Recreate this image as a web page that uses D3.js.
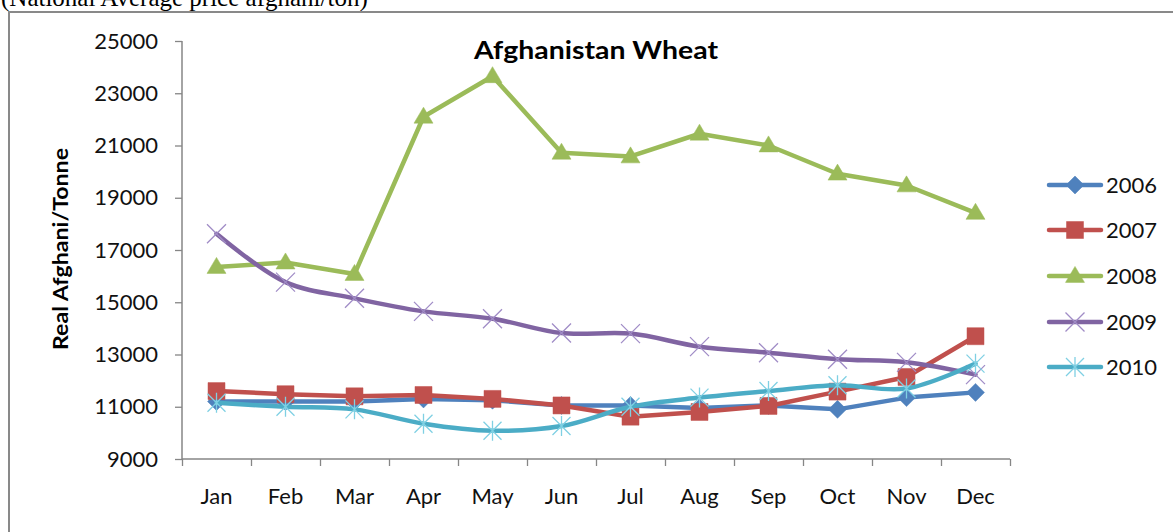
<!DOCTYPE html>
<html><head><meta charset="utf-8">
<script src="https://cdn.jsdelivr.net/npm/d3@7"></script>
<style>
html,body{margin:0;padding:0;background:#fff;}
svg{display:block;}
</style></head>
<body>
<svg id="chart" width="1173" height="532"></svg>
<script>
const months = ["Jan","Feb","Mar","Apr","May","Jun","Jul","Aug","Sep","Oct","Nov","Dec"];
const yTicks = [9000,11000,13000,15000,17000,19000,21000,23000,25000];
const seriesNames = ["2006","2007","2008","2009","2010"];
const v2006 = [11200,11200,11200,11300,11250,11050,11050,10950,11050,10900,11350,11550];
const v2007 = [11600,11480,11400,11450,11300,11050,10620,10800,11030,11580,12140,13700];
const v2008 = [16350,16520,16080,22100,23650,20720,20580,21450,21000,19920,19470,18420];
const v2009 = [17620,15770,15150,14650,14370,13820,13800,13300,13070,12820,12700,12230];
const v2010 = [11150,11000,10900,10350,10080,10260,11000,11350,11600,11820,11700,12650];
const title = "Afghanistan Wheat";
const yLabel = "Real Afghani/Tonne";
const caption = "(National Average price afghani/ton)";

const colors = ["#4F81BD","#C0504D","#9BBB59","#8064A2","#4BACC6"];
const markerColors = ["#4F81BD","#C0504D","#9BBB59","#A08CC6","#7FD0E3"];
const markerTypes = ["diamond","square","triangle","x","star"];
const allValues = [v2006,v2007,v2008,v2009,v2010];
const smooth = [false,false,false,true,true];

const svg = d3.select("#chart");
const font = "Lato, 'Open Sans', sans-serif";
const axisColor = "#868686";

// outer border and caption
svg.append("text").attr("x",1).attr("y",6)
  .attr("font-family","'Liberation Serif','Times New Roman',serif")
  .attr("font-size",25).attr("fill","#000").text(caption);
svg.append("path").attr("d","M9,532 V12 H1173").attr("fill","none")
  .attr("stroke","#898989").attr("stroke-width",2);

const x = d3.scaleBand().domain(months).range([182,1010]).padding(0);
const xEdge = d3.scaleLinear().domain([0,12]).range([182,1010]);
const y = d3.scaleLinear().domain([9000,25000]).range([459,41]);
const cx = m => x(m) + x.bandwidth()/2;

// y axis
const yAxis = svg.append("g").attr("transform","translate(182,0)")
  .call(d3.axisLeft(y).tickValues(yTicks).tickSize(7).tickPadding(17).tickFormat(d3.format("d")));
yAxis.select(".domain").attr("stroke",axisColor).attr("stroke-width",1.5).attr("d","M0,41V459");
yAxis.selectAll(".tick line").attr("stroke",axisColor).attr("stroke-width",1.3);
yAxis.selectAll("text").attr("font-family",font).attr("font-size",22).attr("fill","#111");

// x axis ticks at category boundaries
const xTicks = svg.append("g").attr("transform","translate(0,459)")
  .call(d3.axisBottom(xEdge).tickValues(d3.range(0,13)).tickSize(7).tickFormat(""));
xTicks.select(".domain").attr("stroke",axisColor).attr("stroke-width",1.5).attr("d","M182,0H1010");
xTicks.selectAll(".tick line").attr("stroke",axisColor).attr("stroke-width",1.3);
// x labels
const xLab = svg.append("g").attr("transform","translate(0,459)")
  .call(d3.axisBottom(x).tickSize(0).tickPadding(29));
xLab.select(".domain").remove();
xLab.selectAll("text").attr("font-family",font).attr("font-size",22).attr("fill","#111");

// titles
svg.append("text").attr("x",596).attr("y",59).attr("text-anchor","middle")
  .attr("font-family",font).attr("font-weight","bold").attr("font-size",24).attr("fill","#000")
  .attr("textLength",244).attr("lengthAdjust","spacingAndGlyphs")
  .text(title);
svg.append("text").attr("transform","translate(68,249) rotate(-90)").attr("text-anchor","middle")
  .attr("font-family",font).attr("font-weight","bold").attr("font-size",21).attr("fill","#000")
  .attr("textLength",202).attr("lengthAdjust","spacingAndGlyphs")
  .text(yLabel);

function markerPath(type, px, py){
  const p = d3.path();
  if(type==="diamond"){ const r=9; p.moveTo(px,py-r); p.lineTo(px+r,py); p.lineTo(px,py+r); p.lineTo(px-r,py); p.closePath(); }
  else if(type==="square"){ const r=8.5; p.rect(px-r,py-r,2*r,2*r); }
  else if(type==="triangle"){ const w=9.5,h=16; p.moveTo(px,py-h*0.6); p.lineTo(px+w,py+h*0.4); p.lineTo(px-w,py+h*0.4); p.closePath(); }
  else if(type==="x"){ const r=9.5; p.moveTo(px-r,py-r); p.lineTo(px+r,py+r); p.moveTo(px+r,py-r); p.lineTo(px-r,py+r); }
  else if(type==="star"){ const r=9; p.moveTo(px-r,py-r); p.lineTo(px+r,py+r); p.moveTo(px+r,py-r); p.lineTo(px-r,py+r); p.moveTo(px,py-r-1); p.lineTo(px,py+r+1); }
  return p.toString();
}
function drawMarker(g, type, color, px, py){
  const filled = (type==="diamond"||type==="square"||type==="triangle");
  g.append("path").attr("d",markerPath(type,px,py))
    .attr("fill", filled?color:"none")
    .attr("stroke", color).attr("stroke-width", filled?0.5:1.3);
}

allValues.forEach((vals,i)=>{
  const g = svg.append("g");
  const data = months.map((m,j)=>({m, v: vals[j]}));
  const line = d3.line().x(d=>cx(d.m)).y(d=>y(d.v))
    .curve(smooth[i]? d3.curveCatmullRom.alpha(0.5) : d3.curveLinear);
  g.append("path").datum(data).attr("d",line).attr("fill","none")
    .attr("stroke",colors[i]).attr("stroke-width",4.5)
    .attr("stroke-linejoin","round").attr("stroke-linecap","round");
  data.forEach(d=>drawMarker(g, markerTypes[i], markerColors[i], cx(d.m), y(d.v)));
});

// legend
const legY = [185,230,276,322,367];
seriesNames.forEach((name,i)=>{
  const g = svg.append("g");
  g.append("line").attr("x1",1049).attr("x2",1101).attr("y1",legY[i]).attr("y2",legY[i])
    .attr("stroke",colors[i]).attr("stroke-width",4.5).attr("stroke-linecap","round");
  drawMarker(g, markerTypes[i], markerColors[i], 1075, legY[i]);
  g.append("text").attr("x",1106).attr("y",legY[i]+8).attr("font-family",font)
    .attr("font-size",22).attr("fill","#111").text(name);
});
</script>
</body></html>
